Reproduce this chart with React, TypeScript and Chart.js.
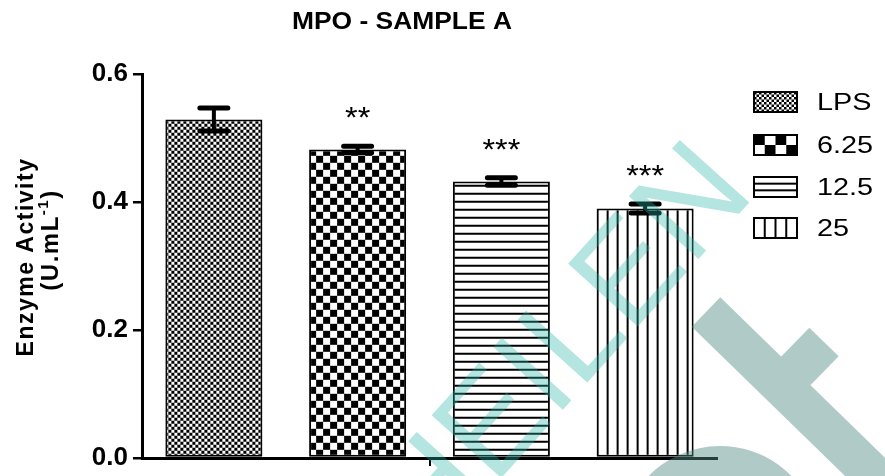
import React, { useEffect, useRef } from 'react';
import { Chart, registerables } from 'chart.js';

Chart.register(...registerables);

// ---- data ----
const groups = ['LPS', '6.25', '12.5', '25'];
const means = [0.529, 0.482, 0.432, 0.39];
const errors = [0.018, 0.005, 0.006, 0.007];
const significance = ['', '**', '***', '***'];
const fillKinds = ['fineCheck', 'check', 'hLines', 'vLines'];
const yTicks = [0, 0.2, 0.4, 0.6];

const chartTitle = 'MPO - SAMPLE A';
const yTitle = 'Enzyme Activity';
const yUnitMain = '(U.mL';
const yUnitSup = '-1';
const yUnitEnd = ')';
const watermark = 'HEILEN';

const FONT = '"Liberation Sans", Arial, Helvetica, sans-serif';

// Repeating tile used as a bar fill
function makeTile(kind: string): HTMLCanvasElement {
  const c = document.createElement('canvas');
  const g = c.getContext('2d')!;
  if (kind === 'fineCheck') {
    c.width = 6; c.height = 6;
    g.fillStyle = '#fff'; g.fillRect(0, 0, 6, 6);
    g.fillStyle = '#000'; g.fillRect(0, 0, 3, 3); g.fillRect(3, 3, 3, 3);
  } else if (kind === 'check') {
    c.width = 14; c.height = 14;
    g.fillStyle = '#fff'; g.fillRect(0, 0, 14, 14);
    g.fillStyle = '#000'; g.fillRect(0, 0, 7, 7); g.fillRect(7, 7, 7, 7);
  } else if (kind === 'hLines') {
    c.width = 8; c.height = 8;
    g.fillStyle = '#fff'; g.fillRect(0, 0, 8, 8);
    g.fillStyle = '#000'; g.fillRect(0, 0, 8, 2);
  } else {
    c.width = 10; c.height = 10;
    g.fillStyle = '#fff'; g.fillRect(0, 0, 10, 10);
    g.fillStyle = '#000'; g.fillRect(0, 0, 2, 10);
  }
  return c;
}

// Small legend swatch, drawn at its own scale
function drawSwatch(ctx: CanvasRenderingContext2D, kind: string, x: number, y: number, w: number, h: number) {
  ctx.save();
  ctx.fillStyle = '#fff';
  ctx.fillRect(x, y, w, h);
  ctx.beginPath();
  ctx.rect(x, y, w, h);
  ctx.clip();
  ctx.fillStyle = '#000';
  if (kind === 'fineCheck') {
    const s = 2.5;
    for (let r = 0; r * s < h; r++) for (let q = 0; q * s < w; q++) if ((r + q) % 2 === 0) ctx.fillRect(x + q * s, y + r * s, s, s);
  } else if (kind === 'check') {
    const sw = w / 4, sh = h / 2;
    for (let r = 0; r < 2; r++) for (let q = 0; q < 4; q++) if ((r + q) % 2 === 0) ctx.fillRect(x + q * sw, y + r * sh, sw, sh);
  } else if (kind === 'hLines') {
    for (let k = 1; k < 3; k++) ctx.fillRect(x, y + (k * h) / 3 - 1, w, 2);
  } else {
    for (let k = 1; k < 4; k++) ctx.fillRect(x + (k * w) / 4 - 1, y, 2, h);
  }
  ctx.restore();
  ctx.save();
  ctx.strokeStyle = '#000';
  ctx.lineWidth = 2;
  ctx.strokeRect(x, y, w, h);
  ctx.restore();
}

// Text drawn slightly widened horizontally
function wideText(ctx: CanvasRenderingContext2D, text: string, x: number, y: number, sx: number) {
  ctx.save();
  ctx.translate(x, y);
  ctx.scale(sx, 1);
  ctx.fillText(text, 0, 0);
  ctx.restore();
}

const patternAlign = {
  id: 'patternAlign',
  beforeDatasetsDraw(chart: any) {
    chart.data.datasets.forEach((ds: any, i: number) => {
      const bar: any = chart.getDatasetMeta(i).data[0];
      if (!bar || !ds.backgroundColor || !ds.backgroundColor.setTransform) return;
      ds.backgroundColor.setTransform(new DOMMatrix().translate(bar.x - bar.width / 2, bar.base));
    });
  },
};

const errorBars = {
  id: 'errorBars',
  afterDatasetsDraw(chart: any) {
    const ctx = chart.ctx as CanvasRenderingContext2D;
    const y = chart.scales.y;
    chart.data.datasets.forEach((ds: any, i: number) => {
      const bar: any = chart.getDatasetMeta(i).data[0];
      const m = means[i];
      const e = errors[i];
      const yt = y.getPixelForValue(m + e);
      const yb = y.getPixelForValue(m - e);
      const half = 14;
      ctx.save();
      ctx.strokeStyle = '#000';
      ctx.lineWidth = 4;
      ctx.beginPath();
      ctx.moveTo(bar.x, yt);
      ctx.lineTo(bar.x, yb);
      ctx.stroke();
      ctx.lineWidth = 5;
      ctx.lineCap = 'round';
      ctx.beginPath();
      ctx.moveTo(bar.x - half, yt);
      ctx.lineTo(bar.x + half, yt);
      ctx.moveTo(bar.x - half, yb);
      ctx.lineTo(bar.x + half, yb);
      ctx.stroke();
      // significance stars
      const stars = significance[i];
      if (stars) {
        ctx.fillStyle = '#000';
        ctx.font = `30px ${FONT}`;
        ctx.textAlign = 'center';
        ctx.textBaseline = 'alphabetic';
        wideText(ctx, stars, bar.x, yt - 19, 1.08);
      }
      ctx.restore();
    });
  },
};

const decorations = {
  id: 'decorations',
  afterDraw(chart: any) {
    const ctx = chart.ctx as CanvasRenderingContext2D;
    ctx.save();
    // title
    ctx.fillStyle = '#000';
    ctx.font = `bold 24px ${FONT}`;
    ctx.textAlign = 'center';
    ctx.textBaseline = 'alphabetic';
    wideText(ctx, chartTitle, 402, 29, 1.1);

    // y-axis title
    ctx.save();
    ctx.translate(33, 257);
    ctx.rotate(-Math.PI / 2);
    ctx.font = `bold 23px ${FONT}`;
    (ctx as any).letterSpacing = '1.5px';
    ctx.fillText(yTitle, 0, 0);
    ctx.restore();

    ctx.save();
    ctx.translate(58, 240);
    ctx.rotate(-Math.PI / 2);
    (ctx as any).letterSpacing = '1.5px';
    ctx.font = `bold 24px ${FONT}`;
    const w1 = ctx.measureText(yUnitMain).width;
    ctx.font = `bold 15px ${FONT}`;
    const w2 = ctx.measureText(yUnitSup).width;
    ctx.font = `bold 24px ${FONT}`;
    const w3 = ctx.measureText(yUnitEnd).width;
    const x0 = -(w1 + w2 + w3) / 2;
    ctx.textAlign = 'left';
    ctx.fillText(yUnitMain, x0, 0);
    ctx.font = `bold 15px ${FONT}`;
    ctx.fillText(yUnitSup, x0 + w1, -10);
    ctx.font = `bold 24px ${FONT}`;
    ctx.fillText(yUnitEnd, x0 + w1 + w2, 0);
    ctx.restore();

    // legend
    const rows = [102, 145, 187, 228];
    groups.forEach((g, i) => {
      drawSwatch(ctx, fillKinds[i], 754, rows[i] - 10, 43, 20);
      ctx.fillStyle = '#000';
      ctx.font = `24px ${FONT}`;
      ctx.textAlign = 'left';
      ctx.textBaseline = 'middle';
      wideText(ctx, g, 817, rows[i] + 1, 1.2);
    });

    // watermark
    ctx.save();
    ctx.translate(556, 344);
    ctx.rotate((-48 * Math.PI) / 180);
    ctx.fillStyle = 'rgba(40,180,165,0.35)';
    ctx.font = `136px ${FONT}`;
    ctx.textAlign = 'center';
    ctx.textBaseline = 'alphabetic';
    ctx.fillText(watermark, 0, 49);
    ctx.restore();

    ctx.strokeStyle = 'rgba(80,140,130,0.45)';
    ctx.lineWidth = 41;
    ctx.lineCap = 'butt';
    ctx.beginPath();
    ctx.moveTo(706, 312);
    ctx.lineTo(895, 496);
    ctx.moveTo(824, 342);
    ctx.lineTo(782, 385);
    ctx.stroke();
    ctx.lineWidth = 40;
    ctx.beginPath();
    ctx.arc(720, 546, 80, Math.PI * 1.05, Math.PI * 1.95);
    ctx.stroke();
    ctx.restore();
  },
};

export default function App() {
  const ref = useRef<HTMLCanvasElement | null>(null);

  useEffect(() => {
    document.body.style.margin = '0';
    const canvas = ref.current;
    if (!canvas) return;
    const ctx2d = canvas.getContext('2d')!;
    const datasets = groups.map((g, i) => ({
      label: g,
      data: [means[i]],
      backgroundColor: ctx2d.createPattern(makeTile(fillKinds[i]), 'repeat') as any,
      borderColor: '#000',
      borderWidth: 2,
      borderSkipped: false as any,
      barPercentage: 0.675,
      categoryPercentage: 1,
    }));

    const chart = new Chart(canvas, {
      type: 'bar',
      data: { labels: [''], datasets },
      options: {
        responsive: false,
        animation: false,
        devicePixelRatio: 1,
        layout: { padding: { left: 0, right: 168, top: 74, bottom: 10 } },
        plugins: {
          legend: { display: false },
          tooltip: { enabled: false },
          title: { display: false },
        },
        scales: {
          x: {
            grid: { display: true, drawOnChartArea: false, drawTicks: true, tickLength: 8, color: '#000', lineWidth: 2, offset: false },
            border: { display: true, color: '#000', width: 3 },
            ticks: { display: false },
          },
          y: {
            min: 0,
            max: 0.6,
            afterBuildTicks: (s: any) => {
              s.ticks = yTicks.map((v) => ({ value: v }));
            },
            afterFit: (s: any) => {
              s.width = 142;
            },
            ticks: {
              callback: (v: any) => Number(v).toFixed(1),
              font: { family: FONT, size: 26, weight: 'bold', lineHeight: 1 },
              color: '#000',
              padding: 5,
            },
            grid: { drawOnChartArea: false, drawTicks: true, tickLength: 9, color: '#000', lineWidth: 2.5 },
            border: { display: true, color: '#000', width: 3 },
          },
        },
      },
      plugins: [patternAlign, errorBars, decorations],
    });
    return () => chart.destroy();
  }, []);

  return <canvas ref={ref} width={885} height={476} style={{ display: 'block' }} />;
}
